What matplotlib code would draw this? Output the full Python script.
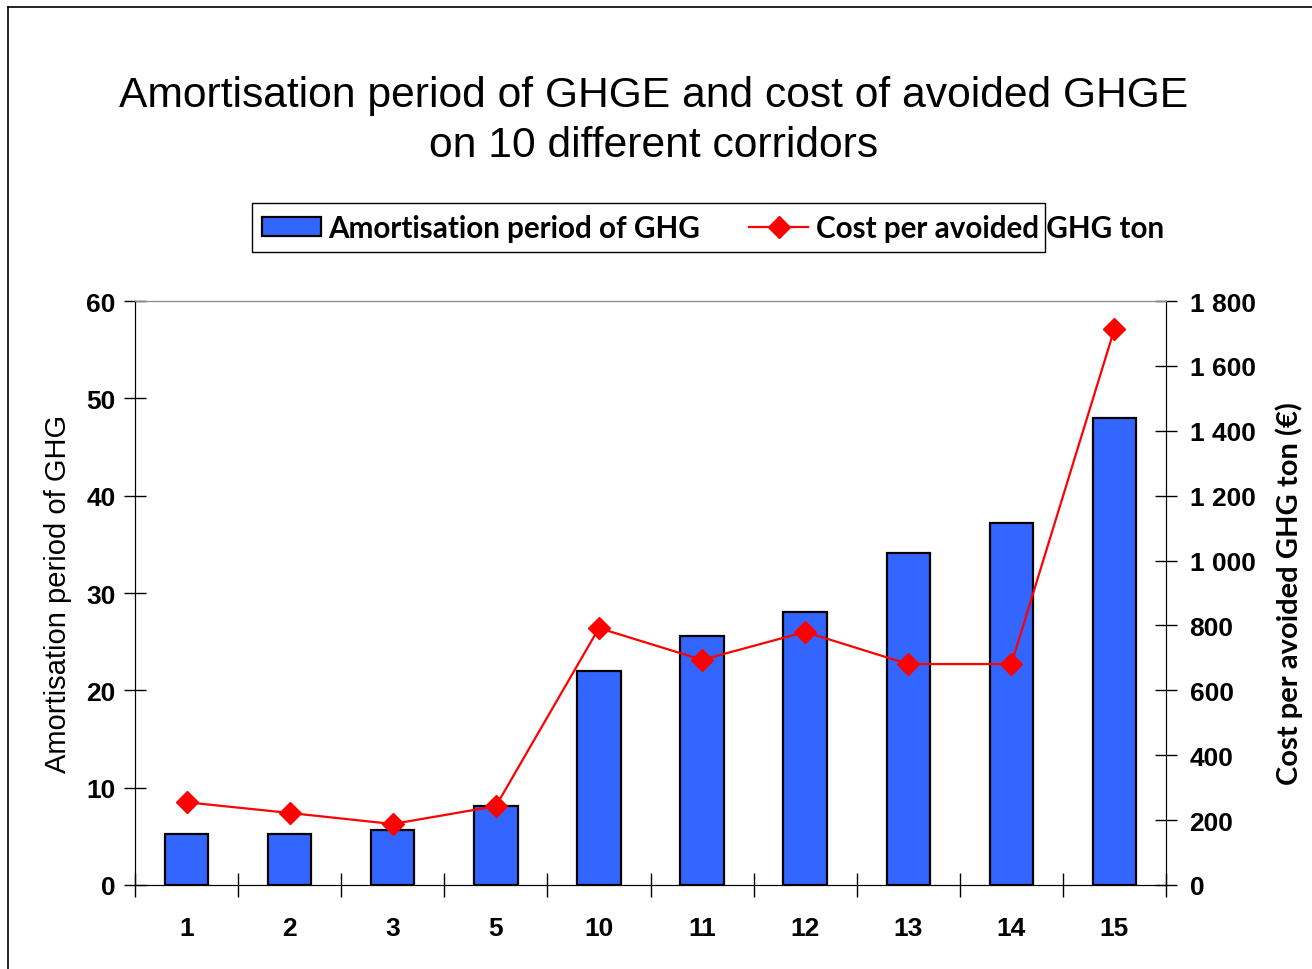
import matplotlib.pyplot as plt
from matplotlib.lines import Line2D
from matplotlib.patches import Rectangle
from matplotlib.ticker import FuncFormatter

# Corridors and values
corridors = ['1', '2', '3', '5', '10', '11', '12', '13', '14', '15']
amortisation = [5.2, 5.2, 5.7, 8.1, 22.0, 25.6, 28.0, 34.1, 37.2, 48.0]
cost_per_ton = [255, 222, 188, 243, 792, 694, 780, 681, 681, 1714]

plt.rcParams['font.family'] = 'Liberation Sans'
plt.rcParams['font.weight'] = 'bold'

W, H = 1312, 970
fig = plt.figure(figsize=(W / 100, H / 100), dpi=100)
ax = fig.add_axes([135 / W, 1 - 886 / H, (1166 - 135) / W, (886 - 302) / H])
ax2 = ax.twinx()

x = list(range(len(corridors)))
bars = ax.bar(x, amortisation, width=0.42, color='#3366FF', edgecolor='black',
              linewidth=1.6, zorder=2)
line, = ax2.plot(x, cost_per_ton, color='red', lw=1.6, marker='D', ms=11.5,
                 mec='red', zorder=3)
ax.set_zorder(1)
ax2.set_zorder(2)
ax.patch.set_visible(False)

ax.set_xlim(-0.5, len(x) - 0.5)
ax.set_ylim(0, 60)
ax2.set_ylim(0, 1800)
ax.set_yticks(range(0, 61, 10))
ax2.set_yticks(range(0, 1801, 200))
ax2.yaxis.set_major_formatter(FuncFormatter(lambda v, p: f'{int(v):,}'.replace(',', ' ')))

# category separators as major ticks, labels on minor ticks
ax.set_xticks([i - 0.5 for i in range(len(x) + 1)])
ax.set_xticklabels([])
ax.set_xticks(x, minor=True)
ax.set_xticklabels(corridors, minor=True)
ax.tick_params(axis='x', which='major', direction='inout', length=17, width=1)
ax.tick_params(axis='x', which='minor', length=0, pad=22, labelsize=19)
ax.tick_params(axis='y', direction='inout', length=16, width=1, pad=6, labelsize=19)
ax2.tick_params(axis='y', direction='inout', length=16, width=1, pad=9, labelsize=19)

for a in (ax, ax2):
    a.spines['top'].set_color('#888888')
    a.spines['left'].set_color('black')
    a.spines['right'].set_color('black')
    a.spines['bottom'].set_color('black')

ax.set_ylabel('Amortisation period of GHG', weight='normal', size=21, labelpad=10)
ax2.set_ylabel('Cost per avoided GHG ton (€)', family='Lato', weight='bold',
               size=21, labelpad=14)

fig.text(654 / W, 1 - 121 / H,
         'Amortisation period of GHGE and cost of avoided GHGE\non 10 different corridors',
         ha='center', va='center', weight='normal', size=30.7, linespacing=1.32)

# legend with its own frame
fig.legend([bars, line], ['Amortisation period of GHG', 'Cost per avoided GHG ton'],
           loc='center left', bbox_to_anchor=(262 / W, 1 - 229 / H), ncol=2,
           frameon=False, prop=dict(family='Lato', weight='bold', size=21.3),
           handlelength=2.0, handleheight=0.6, handletextpad=0.25,
           columnspacing=1.65, borderpad=0, borderaxespad=0)
fig.patches.append(Rectangle((252 / W, 1 - 253 / H), (1045 - 252) / W, 49 / H,
                             transform=fig.transFigure, fill=False,
                             edgecolor='black', lw=1))

# outer chart frame
fig.lines.append(Line2D([8 / W, 8 / W], [0, 1 - 8 / H], transform=fig.transFigure,
                        color='black', lw=1.2))
fig.lines.append(Line2D([8 / W, 1], [1 - 8 / H, 1 - 8 / H], transform=fig.transFigure,
                        color='black', lw=1.2))

fig.savefig('out.png', dpi=100)
